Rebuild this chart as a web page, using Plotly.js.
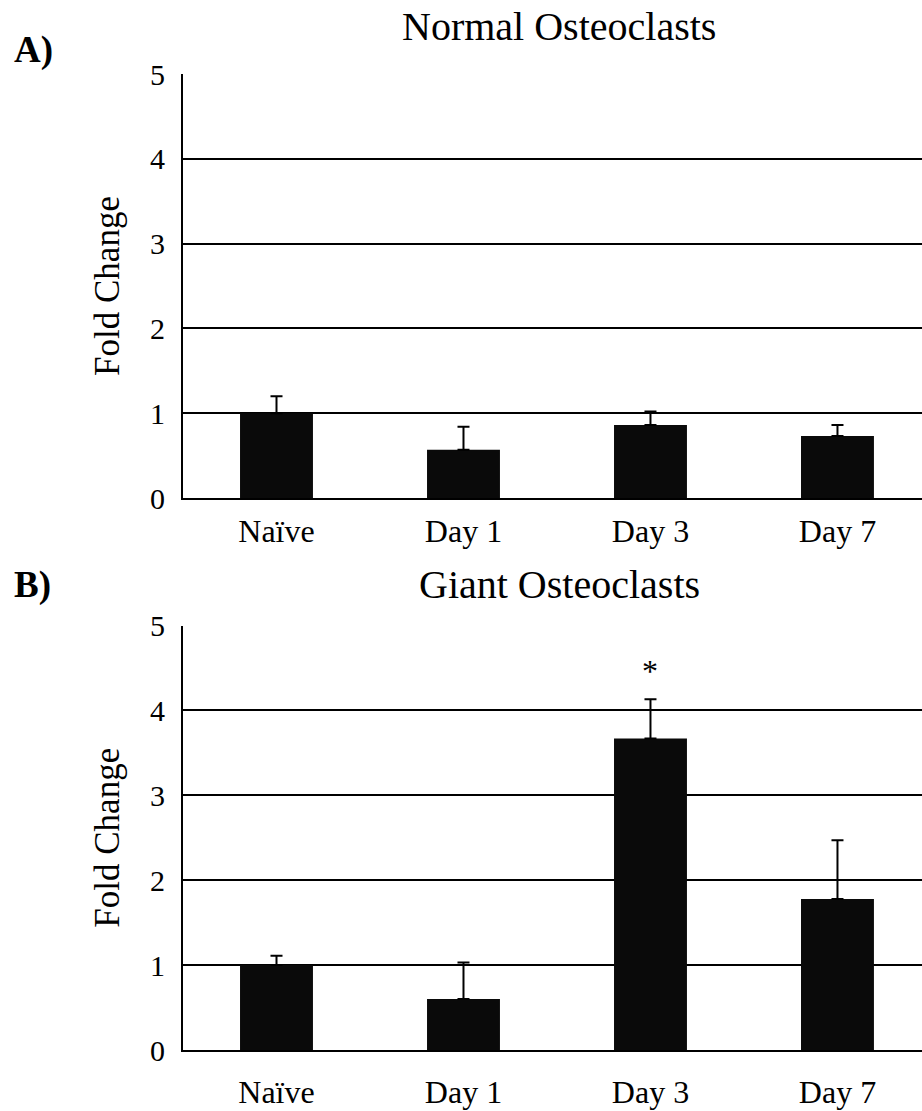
<!DOCTYPE html>
<html>
<head>
<meta charset="utf-8">
<script src="https://cdn.plot.ly/plotly-3.0.1.min.js"></script>
<style>html,body{margin:0;padding:0;background:#fff;}</style>
</head>
<body>
<div id="chart" style="width:922px;height:1111px;"></div>
<script>
const categories = ["Naïve", "Day 1", "Day 3", "Day 7"];
const normalValues = [1.0, 0.57, 0.86, 0.73];
const normalErrors = [0.20, 0.27, 0.16, 0.13];
const giantValues = [1.0, 0.60, 3.67, 1.78];
const giantErrors = [0.11, 0.43, 0.46, 0.69];
const yTicks = [0, 1, 2, 3, 4, 5];
const panelTitles = ["Normal Osteoclasts", "Giant Osteoclasts"];
const panelLabels = ["A)", "B)"];
const significance = [{category: "Day 3", y: 4.47, text: "*"}];

const FONT = "Liberation Serif";
const W = 922, H = 1111;
const px = v => v / W;
const py = v => 1 - v / H;

function barTrace(vals, errs, xa, ya) {
  return {
    type: "bar", x: categories, y: vals, xaxis: xa, yaxis: ya,
    width: 0.39,
    marker: {color: "#0a0a0a", line: {width: 0}},
    error_y: {type: "data", array: errs, arrayminus: errs.map(() => 0), symmetric: false,
      color: "#000", thickness: 2, width: 6},
    hoverinfo: "skip", showlegend: false
  };
}

function yAxis(domain, anchor) {
  return {
    domain: domain, anchor: anchor, range: [0, 5], tickvals: yTicks, ticks: "",
    showgrid: true, gridcolor: "#000", gridwidth: 2,
    showline: true, linecolor: "#000", linewidth: 2,
    zeroline: false, fixedrange: true,
    tickfont: {family: FONT, size: 30, color: "#000"},
    ticklabelstandoff: 10,
    title: {text: "Fold Change", font: {family: FONT, size: 35, color: "#000"}, standoff: 20}
  };
}
function xAxis(anchor, standoff) {
  return {
    domain: [px(183), 1], anchor: anchor, range: [-0.5, 3.452],
    type: "category", ticks: "", showline: true, linecolor: "#000", linewidth: 2,
    showgrid: false, zeroline: false, fixedrange: true,
    ticklabelstandoff: standoff,
    tickfont: {family: FONT, size: 32, color: "#000"}
  };
}

const data = [
  barTrace(normalValues, normalErrors, "x", "y"),
  barTrace(giantValues, giantErrors, "x2", "y2")
];

const annotations = [
  {text: panelTitles[0], xref: "paper", yref: "paper", x: px(559), y: py(26), showarrow: false,
   font: {family: FONT, size: 40, color: "#000"}, xanchor: "center", yanchor: "middle"},
  {text: panelTitles[1], xref: "paper", yref: "paper", x: px(559), y: py(584), showarrow: false,
   font: {family: FONT, size: 40, color: "#000"}, xanchor: "center", yanchor: "middle"},
  {text: "<b>" + panelLabels[0] + "</b>", xref: "paper", yref: "paper", x: px(12), y: py(50), showarrow: false,
   font: {family: FONT, size: 37, color: "#000"}, xanchor: "left", yanchor: "middle"},
  {text: "<b>" + panelLabels[1] + "</b>", xref: "paper", yref: "paper", x: px(12), y: py(585), showarrow: false,
   font: {family: FONT, size: 37, color: "#000"}, xanchor: "left", yanchor: "middle"}
].concat(significance.map(s => ({
  text: s.text, xref: "x2", yref: "y2", x: s.category, y: s.y, showarrow: false,
  font: {family: FONT, size: 32, color: "#000"}, xanchor: "center", yanchor: "middle"
})));

const layout = {
  width: W, height: H,
  margin: {l: 0, r: 0, t: 0, b: 0},
  paper_bgcolor: "#fff", plot_bgcolor: "#fff",
  bargap: 0.6,
  xaxis: xAxis("y", 4),
  yaxis: yAxis([py(498), py(74)], "x"),
  xaxis2: xAxis("y2", 13),
  yaxis2: yAxis([py(1050), py(625.5)], "x2"),
  annotations: annotations,
  showlegend: false
};

Plotly.newPlot("chart", data, layout, {displayModeBar: false, staticPlot: true});
</script>
</body>
</html>
